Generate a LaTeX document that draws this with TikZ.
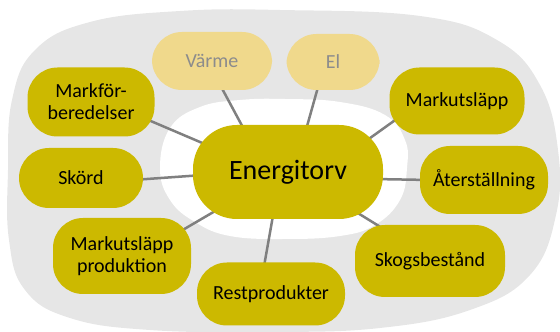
\documentclass[tikz,border=0pt]{standalone}
\usepackage{fontspec}
\setmainfont{Carlito}
\usepackage{tikz}
\usetikzlibrary{positioning,calc}

\definecolor{torvgul}{RGB}{204,185,0}
\definecolor{blekgul}{RGB}{240,217,140}
\definecolor{bakgrund}{RGB}{230,230,230}
\definecolor{linje}{RGB}{128,128,128}
\definecolor{blektext}{RGB}{140,140,140}

\pgfdeclarelayer{background}
\pgfsetlayers{background,main}

\begin{document}
\begin{tikzpicture}[
    x=1pt, y=1pt,
    blob/.style={fill=torvgul, rectangle, rounded corners=30pt, align=center, inner sep=0pt, font=\fontsize{20}{22}\selectfont},
    pale/.style={blob, fill=blekgul, text=blektext},
    link/.style={draw=linje, line width=2.5pt}
]
\useasboundingbox (0,0) rectangle (560,332);

% --- Bakgrund: grå yta och vit ring runt mitten ---
\begin{pgfonlayer}{background}
\fill[bakgrund] plot[smooth cycle, tension=0.7] coordinates {
    (280,322) (420,316) (497,292) (540,247) (558,182) (556,117) (530,57)
    (470,22) (380,4) (270,0) (150,2) (70,14) (25,42) (9,92) (8,162)
    (12,232) (35,282) (90,310) (180,321)};
\fill[white] plot[smooth cycle, tension=0.7] coordinates {
    (160,164) (170,204) (200,225) (240,232) (285,233) (340,230) (385,217)
    (405,192) (407,164) (400,132) (375,107) (340,96) (285,93) (230,96)
    (195,110) (170,132)};
\end{pgfonlayer}

% --- Mitten ---
\node[blob, minimum width=190pt, minimum height=94pt, rounded corners=44pt, font=\fontsize{28}{30}\selectfont] (ctr) at (288,160) {Energitorv};

% --- Energiutfall ---
\node[pale, minimum width=120pt, minimum height=58pt] (vaerme) at (212,271) {Värme};
\node[pale, minimum width=93pt, minimum height=56pt] (el) at (333,270) {El};

% --- Skeden runt om ---
\node[blob, minimum width=127pt, minimum height=69pt] (mfb) at (91,230) {Markför-\\beredelser};
\node[blob, minimum width=135pt, minimum height=67pt] (mut) at (457,231) {Markutsläpp};
\node[blob, minimum width=124pt, minimum height=60pt] (skord) at (81,154) {Skörd};
\node[blob, minimum width=128pt, minimum height=68pt] (ater) at (484,152) {Återställning};
\node[blob, minimum width=138pt, minimum height=76pt] (mup) at (122,76) {Markutsläpp\\produktion};
\node[blob, minimum width=148pt, minimum height=63pt] (rest) at (271,38) {Restprodukter};
\node[blob, minimum width=150pt, minimum height=72pt] (skog) at (430,71) {Skogsbestånd};

% --- Kopplingar till mitten ---
\begin{pgfonlayer}{background}
\draw[link] ([xshift=-41pt,yshift=37pt]ctr.center) -- ([xshift=6pt,yshift=-20pt]vaerme.center);
\draw[link] ([xshift=16pt,yshift=35pt]ctr.center) -- ([xshift=-13pt,yshift=-18pt]el.center);
\draw[link] ([xshift=71pt,yshift=26pt]ctr.center) -- ([xshift=-52pt,yshift=-12pt]mut.center);
\draw[link] ([xshift=-81pt,yshift=27pt]ctr.center) -- ([xshift=48pt,yshift=-14pt]mfb.center);
\draw[link] ([xshift=-85pt,yshift=-3pt]ctr.center) -- ([xshift=52pt,yshift=-2pt]skord.center);
\draw[link] ([xshift=85pt,yshift=-7pt]ctr.center) -- ([xshift=-54pt]ater.center);
\draw[link] ([xshift=-66pt,yshift=-35pt]ctr.center) -- ([xshift=47pt,yshift=18pt]mup.center);
\draw[link] ([xshift=-14pt,yshift=-38pt]ctr.center) -- ([xshift=-8pt,yshift=22pt]rest.center);
\draw[link] ([xshift=52pt,yshift=-30pt]ctr.center) -- ([xshift=-35pt,yshift=25pt]skog.center);
\end{pgfonlayer}

\end{tikzpicture}
\end{document}
